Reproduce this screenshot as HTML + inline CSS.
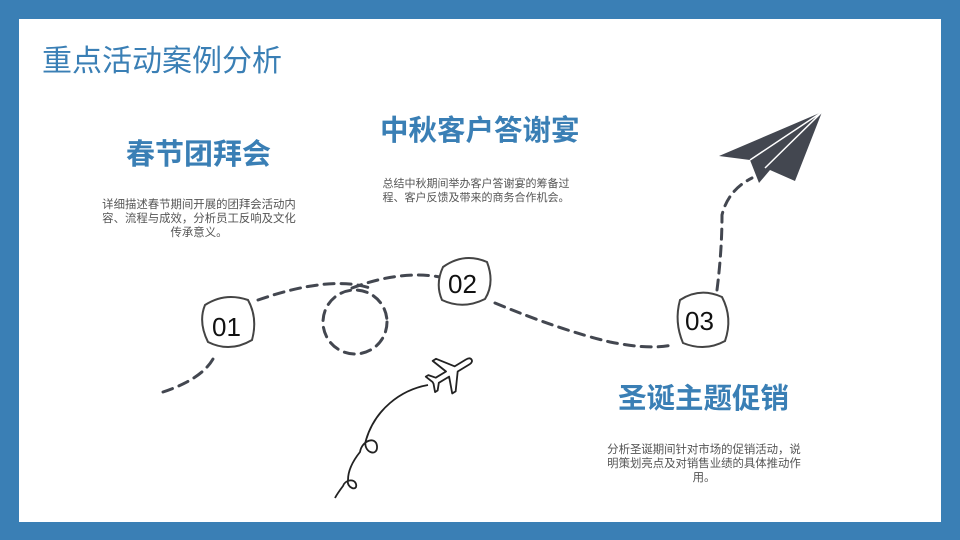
<!DOCTYPE html>
<html><head><meta charset="utf-8"><style>
body{margin:0;width:960px;height:540px;background:#3a7fb5;overflow:hidden;font-family:"Liberation Sans","Noto Sans CJK SC",sans-serif}
.in{position:absolute;left:19px;top:19px;width:922px;height:503px;background:#fff}
.t{position:absolute;color:#3a7fb5;white-space:nowrap}
.d{position:absolute;color:#555;font-size:11.4px;line-height:14px;text-align:center}
</style></head><body>
<div class="in"></div>
<div class="t" style="left:42px;top:36px;font-size:30px">重点活动案例分析</div>
<div class="t" style="left:126px;top:131px;font-size:29px;font-weight:bold">春节团拜会</div>
<div class="t" style="left:380px;top:108px;font-size:28.5px;font-weight:bold">中秋客户答谢宴</div>
<div class="t" style="left:618px;top:376px;font-size:28.5px;font-weight:bold">圣诞主题促销</div>
<div class="d" style="left:98px;top:198px;width:202px">详细描述春节期间开展的团拜会活动内容、流程与成效，分析员工反响及文化传承意义。</div>
<div class="d" style="left:378px;top:177px;width:196px;font-size:11px">总结中秋期间举办客户答谢宴的筹备过程、客户反馈及带来的商务合作机会。</div>
<div class="d" style="left:602px;top:443px;width:204px">分析圣诞期间针对市场的促销活动，说明策划亮点及对销售业绩的具体推动作用。</div>
<svg width="960" height="540" style="position:absolute;left:0;top:0" fill="none">
<g stroke="#434750" stroke-width="3" stroke-dasharray="10 7" stroke-linecap="round">
<path d="M163 392 Q205 378 215 355"/>
<path d="M258 300 Q330 275 370 288"/>
<circle cx="355" cy="322" r="32"/>
<path d="M352 288 Q400 270 440 277"/>
<path d="M495 303 Q560 330 610 342 Q650 350 672 345"/>
<path d="M717 290 Q722 250 722 215 Q728 190 752 178"/>
</g>
<g stroke="#444" stroke-width="2" fill="#fff">
<path d="M205 305 Q225 292 248 300 Q258 318 252 340 Q230 353 208 342 Q198 322 205 305Z"/>
<path d="M443 267 Q464 252 487 262 Q495 283 485 299 Q463 310 442 300 Q435 284 443 267Z"/>
<path d="M680 300 Q700 287 722 297 Q733 318 725 341 Q705 352 683 343 Q674 322 680 300Z"/>
</g>
<g fill="#111" font-size="26" font-family="Liberation Sans,sans-serif">
<text x="212" y="336">01</text><text x="448" y="293">02</text><text x="685" y="330">03</text>
</g>
<path d="M822 112 L719 156 L750 160 L759 183 L770 170 L795 181 Z" fill="#434750"/>
<path d="M822 112 L750 160 M822 112 L765 168" stroke="#fff" stroke-width="1.5"/>
<g transform="translate(451 372) rotate(-31)">
<path d="M24 0 Q24 -3 19 -3 L6 -3 L-6 -19 L-10 -19 L-4 -3 L-16 -3 L-21 -9 L-24 -9 L-21 -1 L-21 1 L-24 9 L-21 9 L-16 3 L-4 3 L-10 19 L-6 19 L6 3 L19 3 Q24 3 24 0Z" stroke="#222" stroke-width="1.8" fill="#fff" stroke-linejoin="round"/>
</g>
<path d="M428 385 C400 390 375 410 366 440 C362 452 378 458 377 446 C376 436 362 440 360 452 C352 462 348 472 348 480 C346 488 358 492 356 484 C354 478 345 480 343 486 C340 490 337 494 335 498" stroke="#222" stroke-width="1.8"/>
</svg>
</body></html>
